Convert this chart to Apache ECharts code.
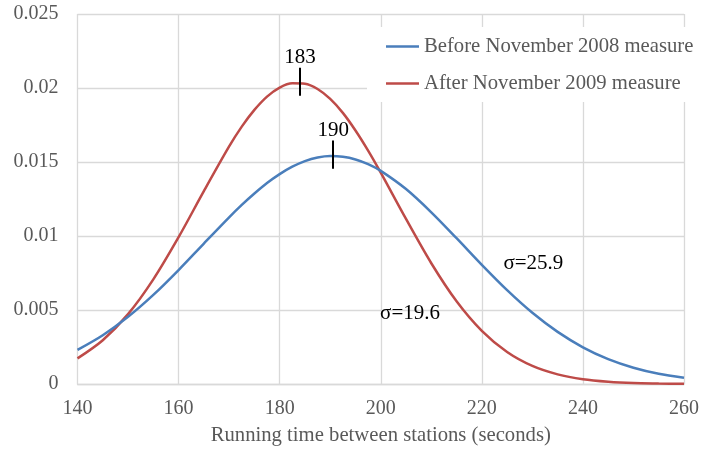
<!DOCTYPE html>
<html>
<head>
<meta charset="utf-8">
<script src="https://cdn.jsdelivr.net/npm/echarts@6/dist/echarts.min.js"></script>
<style>html,body{margin:0;padding:0;background:#fff}#c{width:702px;height:451px}</style>
</head>
<body>
<div id="c"></div>
<script>
// ---- data ----
const xValues = [140,145,150,155,160,165,170,172.5,175,177.5,180,182.5,185,187.5,190,192.5,195,197.5,200,205,210,215,220,225,230,235,240,245,250,255,260];
const beforeValues = [0.00230,0.00329,0.00454,0.00602,0.00770,0.00949,0.01126,0.01210,0.01287,0.01358,0.01418,0.01468,0.01506,0.01530,0.01540,0.01535,0.01517,0.01485,0.01440,0.01317,0.01160,0.00985,0.00805,0.00634,0.00481,0.00352,0.00248,0.00168,0.00110,0.00069,0.00042];
const afterValues = [0.00173,0.00296,0.00472,0.00707,0.00992,0.01303,0.01605,0.01739,0.01852,0.01942,0.02003,0.02032,0.02029,0.01993,0.01926,0.01832,0.01713,0.01577,0.01428,0.01115,0.00816,0.00559,0.00359,0.00216,0.00122,0.00065,0.00032,0.00015,0.00006,0.00003,0.00001];
const seriesNames = ['Before November 2008 measure','After November 2009 measure'];
const xTicks = [140,160,180,200,220,240,260];
const yTicks = [0,0.005,0.01,0.015,0.02,0.025];
// peak markers: [x, yLow, yHigh, label]
const beforePeak = [190.6, 0.01455, 0.01645, '190'];
const afterPeak = [184, 0.01948, 0.02137, '183'];
// sigma labels: [x, y, text]
const beforeSigma = [230.2, 0.00813, 'σ=25.9'];
const afterSigma = [205.8, 0.00475, 'σ=19.6'];

const FONT = 'Liberation Serif';
const toPairs = (xs, ys) => xs.map((x, i) => [x, ys[i]]);

function peakMark(p) {
  return {
    symbol: 'none', silent: true,
    lineStyle: { color: '#000', width: 2, type: 'solid' },
    label: { show: true, position: 'end', distance: 0, formatter: p[3], color: '#000', fontSize: 21, fontFamily: FONT },
    emphasis: { disabled: true },
    data: [[{ coord: [p[0], p[1]] }, { coord: [p[0], p[2]] }]]
  };
}
function sigmaMark(s) {
  return {
    symbol: 'circle', symbolSize: 1, silent: true,
    itemStyle: { color: 'rgba(0,0,0,0)' },
    label: { show: true, position: 'inside', formatter: s[2], color: '#000', fontSize: 21, fontFamily: FONT },
    data: [{ coord: [s[0], s[1]] }]
  };
}

const chart = echarts.init(document.getElementById('c'));
chart.setOption({
  animation: false,
  backgroundColor: '#fff',
  textStyle: { fontFamily: FONT },
  grid: { left: 77.5, right: 18, top: 14, bottom: 66.7, containLabel: false },
  legend: {
    orient: 'vertical', left: 367, top: 27, padding: [9, 5, 8, 19],
    icon: 'rect', itemWidth: 33, itemHeight: 2.5, itemGap: 16,
    backgroundColor: '#fff',
    textStyle: { color: '#595959', fontSize: 20.7, fontFamily: FONT, lineHeight: 20 },
    data: seriesNames
  },
  xAxis: {
    type: 'value', min: xTicks[0], max: xTicks[xTicks.length - 1], interval: 20,
    name: 'Running time between stations (seconds)', nameLocation: 'middle', nameGap: 41,
    nameTextStyle: { color: '#595959', fontSize: 20.7, fontFamily: FONT },
    axisLine: { show: true, lineStyle: { color: '#d9d9d9', width: 1.3 } },
    axisTick: { show: false },
    axisLabel: { color: '#595959', fontSize: 20, fontFamily: FONT, margin: 15 },
    splitLine: { show: true, lineStyle: { color: '#d9d9d9', width: 1.3 } }
  },
  yAxis: {
    type: 'value', min: yTicks[0], max: yTicks[yTicks.length - 1], interval: 0.005,
    axisLine: { show: false }, axisTick: { show: false },
    axisLabel: { color: '#595959', fontSize: 20, fontFamily: FONT, margin: 19,
      formatter: v => String(parseFloat(v.toFixed(3))) },
    splitLine: { show: true, lineStyle: { color: '#d9d9d9', width: 1.3 } }
  },
  series: [
    {
      name: seriesNames[0], type: 'line', data: toPairs(xValues, beforeValues),
      symbol: 'none', smooth: 0.3, lineStyle: { color: '#4a7ebb', width: 2.5 }, itemStyle: { color: '#4a7ebb' },
      z: 3, markLine: peakMark(beforePeak), markPoint: sigmaMark(beforeSigma)
    },
    {
      name: seriesNames[1], type: 'line', data: toPairs(xValues, afterValues),
      symbol: 'none', smooth: 0.3, lineStyle: { color: '#be4b48', width: 2.5 }, itemStyle: { color: '#be4b48' },
      z: 2, markLine: peakMark(afterPeak), markPoint: sigmaMark(afterSigma)
    }
  ]
});
</script>
</body>
</html>
